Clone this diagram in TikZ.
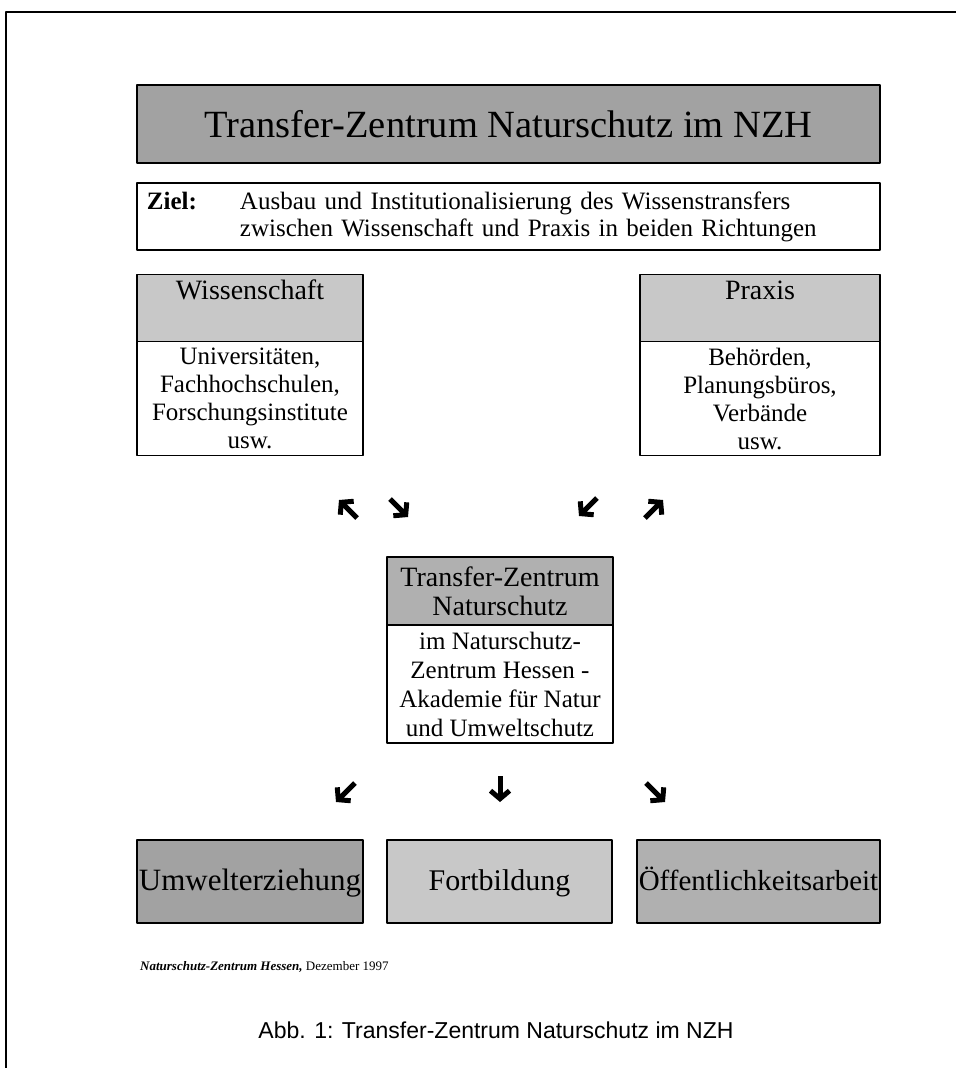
\documentclass[tikz,border=0pt]{standalone}
\usepackage{fontspec}
\setmainfont{Liberation Serif}
\newfontfamily\capfont{Liberation Sans}
\usetikzlibrary{arrows.meta}
\definecolor{darkstip}{HTML}{A2A2A2}
\definecolor{midstip}{HTML}{B0B0B0}
\definecolor{lightstip}{HTML}{C8C8C8}
\begin{document}
\begin{tikzpicture}[x=1bp,y=-1bp,line join=bevel,
  box/.style={draw,line width=1.6bp,inner sep=0pt,align=center},
  headfont/.style={font=\fontsize{28bp}{29bp}\selectfont},
  bodyfont/.style={font=\fontsize{25bp}{28bp}\selectfont},
  footfont/.style={text height=24bp,text depth=7bp},
  bigarrow/.style={line width=5bp,-{Straight Barb[length=8bp,width=19bp,line width=5bp]}},
]
%%
\useasboundingbox (0,0) rectangle (956,1068);
\draw [line width=1.6bp] (956,12) -- (6,12) -- (6,1068);
%
\node (title) at (508.5,124) [box,fill=darkstip,minimum width=743bp,minimum height=78bp,font=\fontsize{38.5bp}{40bp}\selectfont] {Transfer-Zentrum Naturschutz im NZH};
\node (ziel) at (508.5,216.5) [box,minimum width=743bp,minimum height=67bp,text width=723bp,align=left,font=\fontsize{25bp}{27bp}\selectfont] {\makebox[93bp][l]{\textbf{Ziel:}}\parbox[t]{620bp}{Ausbau und Institutionalisierung des Wissenstransfers\\zwischen Wissenschaft und Praxis in beiden Richtungen}};
%
\node (wiss_head) at (250,308) [box,fill=lightstip,minimum width=226bp,minimum height=67bp,text height=8bp,text depth=26bp,headfont] {Wissenschaft};
\node (wiss_body) at (250,398.5) [box,minimum width=226bp,minimum height=114bp,bodyfont] {Universitäten,\\Fachhochschulen,\\Forschungsinstitute\\usw.};
\node (prax_head) at (760,308) [box,fill=lightstip,minimum width=240bp,minimum height=67bp,text height=8bp,text depth=26bp,headfont] {Praxis};
\node (prax_body) at (760,398.5) [box,minimum width=240bp,minimum height=114bp,bodyfont] {Behörden,\\Planungsbüros,\\Verbände\\usw.};
%
\node (tzn_head) at (500,591) [box,fill=midstip,minimum width=226bp,minimum height=68bp,headfont] {Transfer-Zentrum\\Naturschutz};
\node (tzn_body) at (500,684) [box,minimum width=226bp,minimum height=118bp,font=\fontsize{25bp}{29bp}\selectfont] {im Naturschutz-\\Zentrum Hessen -\\Akademie für Natur\\und Umweltschutz};
%
\node (umwelt) at (250,881.5) [box,fill=darkstip,minimum width=226bp,minimum height=83bp,footfont,font=\fontsize{31bp}{32bp}\selectfont] {Umwelterziehung};
\node (fortb) at (499.5,881.5) [box,fill=lightstip,minimum width=225bp,minimum height=83bp,footfont,font=\fontsize{30bp}{32bp}\selectfont] {Fortbildung};
\node (oeff) at (758.5,881.5) [box,fill=midstip,minimum width=243bp,minimum height=83bp,footfont,font=\fontsize{29bp}{32bp}\selectfont] {Öffentlichkeitsarbeit};
%
\coordinate (a1s) at (357,518); \coordinate (a1e) at (339,500);
\coordinate (a2s) at (390,499); \coordinate (a2e) at (408,517);
\coordinate (a3s) at (597,498); \coordinate (a3e) at (579,516);
\coordinate (a4s) at (645,518); \coordinate (a4e) at (663,500);
\coordinate (b1s) at (355,783); \coordinate (b1e) at (336,802);
\coordinate (b2s) at (500,776); \coordinate (b2e) at (500,802);
\coordinate (b3s) at (646,783); \coordinate (b3e) at (665,802);
\draw [bigarrow] (a1s) -- (a1e);
\draw [bigarrow] (a2s) -- (a2e);
\draw [bigarrow] (a3s) -- (a3e);
\draw [bigarrow] (a4s) -- (a4e);
\draw [bigarrow] (b1s) -- (b1e);
\draw [bigarrow] (b2s) -- (b2e);
\draw [bigarrow] (b3s) -- (b3e);
%
\node (source) at (140,967) [anchor=west,inner sep=0pt,font=\fontsize{13bp}{15bp}\selectfont] {\textbf{\textit{Naturschutz-Zentrum Hessen,}} Dezember 1997};
\node (caption) at (496,1030) [inner sep=0pt,font=\capfont\fontsize{23bp}{26bp}\selectfont] {Abb. 1: Transfer-Zentrum Naturschutz im NZH};
%
\end{tikzpicture}
\end{document}
